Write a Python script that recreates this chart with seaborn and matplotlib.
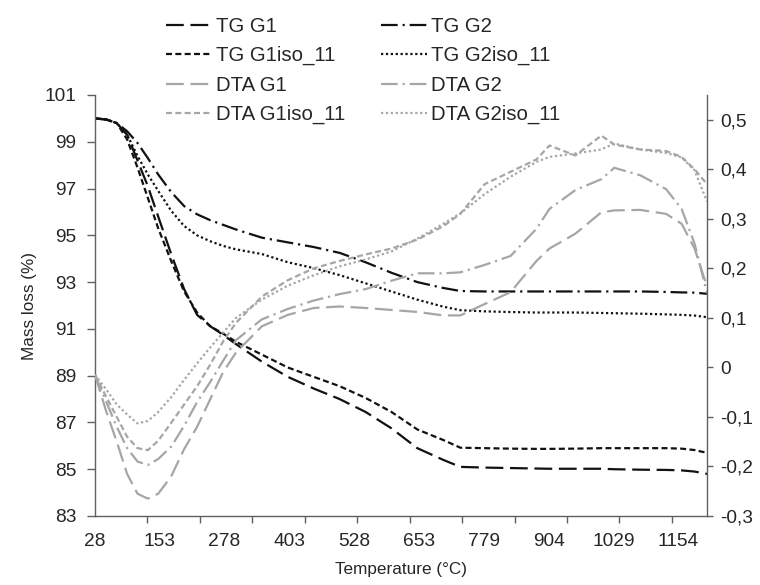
import numpy as np
import pandas as pd
import matplotlib
matplotlib.use("Agg")
import matplotlib.pyplot as plt
from matplotlib.ticker import FixedLocator, FuncFormatter
import seaborn as sns

# Temperature grid (°C)
temperature = [28, 50, 70, 90, 110, 130, 150, 175, 200, 225, 250, 275, 300, 350, 400,
               450, 500, 550, 600, 650, 700, 733, 780, 830, 880, 905, 955, 1005, 1030,
               1080, 1130, 1160, 1185, 1209]

# Thermogravimetric mass (%)
tg_g1 = [100.0, 99.95, 99.8, 99.3, 98.2, 97.1, 95.8, 94.2, 92.7, 91.6, 91.12, 90.75, 90.35,
         89.6, 88.95, 88.45, 88.0, 87.45, 86.75, 85.9, 85.4, 85.1, 85.07, 85.05, 85.03,
         85.02, 85.02, 85.02, 85.0, 84.98, 84.97, 84.95, 84.9, 84.8]
tg_g2 = [100.0, 99.95, 99.8, 99.45, 98.95, 98.3, 97.6, 96.85, 96.25, 95.9, 95.65, 95.45,
         95.25, 94.9, 94.7, 94.5, 94.25, 93.85, 93.4, 93.0, 92.75, 92.62, 92.6, 92.6, 92.6,
         92.6, 92.6, 92.6, 92.6, 92.6, 92.58, 92.56, 92.55, 92.5]
tg_g1iso = [100.0, 99.95, 99.8, 99.1, 97.9, 96.6, 95.3, 93.9, 92.6, 91.7, 91.12, 90.8, 90.45,
            89.9, 89.35, 88.95, 88.55, 88.05, 87.45, 86.7, 86.25, 85.92, 85.9, 85.88, 85.87,
            85.87, 85.88, 85.9, 85.9, 85.9, 85.9, 85.88, 85.82, 85.7]
tg_g2iso = [100.0, 99.95, 99.8, 99.3, 98.4, 97.6, 96.9, 96.05, 95.4, 95.0, 94.75, 94.55,
            94.4, 94.2, 93.85, 93.6, 93.3, 92.95, 92.6, 92.25, 91.95, 91.8, 91.75, 91.72,
            91.7, 91.7, 91.7, 91.68, 91.67, 91.65, 91.62, 91.6, 91.57, 91.5]

# Differential thermal analysis signal
dta_g1 = [-0.015, -0.09, -0.15, -0.215, -0.255, -0.265, -0.255, -0.22, -0.165, -0.12,
          -0.065, -0.01, 0.03, 0.083, 0.106, 0.12, 0.123, 0.12, 0.116, 0.112, 0.105, 0.105,
          0.128, 0.152, 0.215, 0.24, 0.27, 0.313, 0.317, 0.318, 0.31, 0.29, 0.24, 0.163]
dta_g2 = [-0.015, -0.07, -0.12, -0.163, -0.19, -0.197, -0.185, -0.16, -0.118, -0.07, -0.03,
          0.013, 0.055, 0.097, 0.118, 0.135, 0.148, 0.158, 0.175, 0.19, 0.19, 0.192, 0.207,
          0.225, 0.28, 0.32, 0.358, 0.38, 0.403, 0.388, 0.36, 0.32, 0.25, 0.15]
dta_g1iso = [-0.015, -0.06, -0.1, -0.14, -0.163, -0.167, -0.148, -0.112, -0.075, -0.038,
             0.005, 0.052, 0.09, 0.143, 0.176, 0.2, 0.215, 0.228, 0.24, 0.258, 0.285, 0.31,
             0.37, 0.395, 0.42, 0.448, 0.428, 0.468, 0.45, 0.44, 0.437, 0.425, 0.4, 0.37]
dta_g2iso = [-0.015, -0.045, -0.075, -0.095, -0.113, -0.108, -0.09, -0.06, -0.025, 0.008,
             0.04, 0.07, 0.1, 0.137, 0.165, 0.186, 0.204, 0.218, 0.234, 0.26, 0.29, 0.311,
             0.35, 0.385, 0.415, 0.425, 0.432, 0.44, 0.452, 0.44, 0.433, 0.424, 0.398, 0.335]

x_tick_labels = [28, 153, 278, 403, 528, 653, 779, 904, 1029, 1154]
x_tick_marks = [28 + 101.2 * k for k in range(12)]
left_ticks = [83, 85, 87, 89, 91, 93, 95, 97, 99, 101]
right_ticks = [-0.3, -0.2, -0.1, 0.0, 0.1, 0.2, 0.3, 0.4, 0.5]

sns.set_style("ticks")
plt.rcParams["font.family"] = ["Liberation Sans", "DejaVu Sans"]
plt.rcParams["font.size"] = 12

BLACK = "#111111"
GREY = "#a6a6a6"
AXIS = "#606060"
long_dash = (8, 3)
short_dash = (2.7, 1.5)
dash_dot = (7.5, 2.2, 1, 2.2)
dotted = (1, 1.2)

tg_series = {"TG G1": tg_g1, "TG G2": tg_g2, "TG G1iso_11": tg_g1iso, "TG G2iso_11": tg_g2iso}
dta_series = {"DTA G1": dta_g1, "DTA G2": dta_g2, "DTA G1iso_11": dta_g1iso,
              "DTA G2iso_11": dta_g2iso}
dash_map = {"G1": long_dash, "G2": dash_dot, "G1iso_11": short_dash, "G2iso_11": dotted}


def long_frame(series):
    rows = []
    for name, vals in series.items():
        for t, v in zip(temperature, vals):
            rows.append({"T": t, "value": v, "series": name})
    return pd.DataFrame(rows)


tg_df = long_frame(tg_series)
dta_df = long_frame(dta_series)

fig = plt.figure(figsize=(7.6, 5.85), dpi=100)
ax = fig.add_axes([95 / 760, 1 - 516 / 585, (707 - 95) / 760, (516 - 95) / 585])
ax2 = ax.twinx()

sns.lineplot(data=tg_df, x="T", y="value", hue="series", style="series",
             palette={k: BLACK for k in tg_series},
             dashes={k: dash_map[k.split(" ")[1]] for k in tg_series},
             linewidth=1.6, ax=ax, legend=False, sort=False)
sns.lineplot(data=dta_df, x="T", y="value", hue="series", style="series",
             palette={k: GREY for k in dta_series},
             dashes={k: dash_map[k.split(" ")[1]] for k in dta_series},
             linewidth=1.6, ax=ax2, legend=False, sort=False)

ax.set_xlim(28, 1209)
ax.set_ylim(83, 101)
ax2.set_ylim(-0.3, 0.55)

TICK_FS = 13.8
ax.xaxis.set_major_locator(FixedLocator(x_tick_labels))
ax.xaxis.set_minor_locator(FixedLocator(x_tick_marks))
ax.set_xticklabels([str(v) for v in x_tick_labels])
ax.tick_params(axis="x", which="major", length=0, pad=12, labelsize=TICK_FS)
ax.tick_params(axis="x", which="minor", length=5, width=1, direction="out", color=AXIS)
ax.set_yticks(left_ticks)
ax.tick_params(axis="y", length=5.5, width=1, direction="out", pad=8, labelsize=TICK_FS,
               color=AXIS)
ax2.set_yticks(right_ticks)
ax2.yaxis.set_major_formatter(FuncFormatter(
    lambda v, p: "0" if abs(v) < 1e-9 else f"{v:.1f}".replace(".", ",")))
ax2.tick_params(axis="y", length=4.5, width=1, direction="out", pad=5, labelsize=TICK_FS,
                color=AXIS)

for a in (ax, ax2):
    a.spines["top"].set_visible(False)
    for s in a.spines.values():
        s.set_color(AXIS)
        s.set_linewidth(1.0)
ax.spines["right"].set_visible(False)
ax2.spines["left"].set_visible(False)
ax2.spines["bottom"].set_visible(False)

ax.set_xlabel("Temperature (°C)", fontsize=12.3, labelpad=9)
ax.set_ylabel("Mass loss (%)", fontsize=12.3, labelpad=5)
ax2.set_ylabel("")

tg_lines = ax.get_lines()
dta_lines = ax2.get_lines()
handle_of = {n: l for n, l in zip(list(tg_series), tg_lines)}
handle_of.update({n: l for n, l in zip(list(dta_series), dta_lines)})
order = ["TG G1", "TG G1iso_11", "DTA G1", "DTA G1iso_11",
         "TG G2", "TG G2iso_11", "DTA G2", "DTA G2iso_11"]
fig.legend([handle_of[n] for n in order], order, ncol=2, loc="upper left",
           bbox_to_anchor=(166 / 760, 1 - 17 / 585), frameon=False, fontsize=14.7,
           handlelength=2.25, handletextpad=0.2, columnspacing=1.76, labelspacing=0.5,
           borderpad=0, borderaxespad=0)

fig.savefig("out.png", dpi=100)
